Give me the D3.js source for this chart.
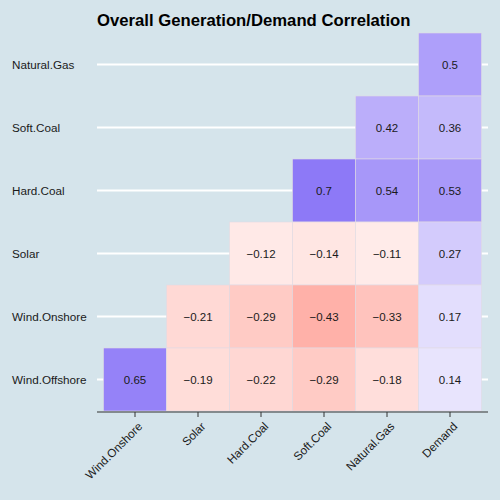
<!DOCTYPE html>
<html><head><meta charset="utf-8">
<script src="https://cdn.jsdelivr.net/npm/d3@7"></script>
<style>body{margin:0;background:#d5e4eb;} svg{display:block;}</style>
</head><body>
<svg id="c" width="500" height="500"></svg>
<script>
const title = "Overall Generation/Demand Correlation";
const xLabels = ["Wind.Onshore","Solar","Hard.Coal","Soft.Coal","Natural.Gas","Demand"];
const yLabels = ["Natural.Gas","Soft.Coal","Hard.Coal","Solar","Wind.Onshore","Wind.Offshore"];
const cellX = ["Demand",
  "Natural.Gas","Demand",
  "Soft.Coal","Natural.Gas","Demand",
  "Hard.Coal","Soft.Coal","Natural.Gas","Demand",
  "Solar","Hard.Coal","Soft.Coal","Natural.Gas","Demand",
  "Wind.Onshore","Solar","Hard.Coal","Soft.Coal","Natural.Gas","Demand"];
const cellY = ["Natural.Gas",
  "Soft.Coal","Soft.Coal",
  "Hard.Coal","Hard.Coal","Hard.Coal",
  "Solar","Solar","Solar","Solar",
  "Wind.Onshore","Wind.Onshore","Wind.Onshore","Wind.Onshore","Wind.Onshore",
  "Wind.Offshore","Wind.Offshore","Wind.Offshore","Wind.Offshore","Wind.Offshore","Wind.Offshore"];
const cellValues = [0.5,
  0.42,0.36,
  0.7,0.54,0.53,
  -0.12,-0.14,-0.11,0.27,
  -0.21,-0.29,-0.43,-0.33,0.17,
  0.65,-0.19,-0.22,-0.29,-0.18,0.14];

const svg = d3.select("#c");
const panel = {left:97, right:488};
const x = d3.scaleBand().domain(xLabels).range([103.5,481.5]).padding(0);
const y = d3.scaleBand().domain(yLabels).range([33,411]).padding(0);
const color = d3.scaleLinear().domain([-1,0,1]).range(["#ff4a38","#ffffff","#5c3ff4"]).interpolate(d3.interpolateRgb);

svg.append("rect").attr("width",500).attr("height",500).attr("fill","#d5e4eb");

// grid lines
svg.append("g").selectAll("line").data(yLabels).join("line")
  .attr("x1",panel.left).attr("x2",panel.right)
  .attr("y1",d=>y(d)+y.bandwidth()/2).attr("y2",d=>y(d)+y.bandwidth()/2)
  .attr("stroke","#ffffff").attr("stroke-width",2);

const cells = cellValues.map((v,i)=>({x:cellX[i], y:cellY[i], v}));
svg.append("g").selectAll("rect").data(cells).join("rect")
  .attr("x",d=>x(d.x)).attr("y",d=>y(d.y))
  .attr("width",x.bandwidth()).attr("height",y.bandwidth())
  .attr("fill",d=>color(d.v)).attr("stroke","#e0dbe3").attr("stroke-width",0.6);

const fmt = v => (v<0?"\u2212":"") + String(Math.abs(v));
svg.append("g").selectAll("text").data(cells).join("text")
  .attr("x",d=>x(d.x)+x.bandwidth()/2).attr("y",d=>y(d.y)+y.bandwidth()/2)
  .attr("text-anchor","middle").attr("dominant-baseline","central")
  .attr("font-family","Liberation Sans, Arial, sans-serif").attr("font-size",11.5)
  .attr("fill","#1a1a1a").text(d=>fmt(d.v));

// x axis
const xAxisG = svg.append("g").attr("transform","translate(0,412)");
xAxisG.append("line").attr("x1",panel.left).attr("x2",panel.right).attr("y1",0).attr("y2",0)
  .attr("stroke","#333").attr("stroke-width",1.2);
xAxisG.selectAll("line.tick").data(xLabels).join("line").attr("class","tick")
  .attr("x1",d=>x(d)+x.bandwidth()/2).attr("x2",d=>x(d)+x.bandwidth()/2)
  .attr("y1",0).attr("y2",5).attr("stroke","#333").attr("stroke-width",1);
xAxisG.selectAll("text").data(xLabels).join("text")
  .attr("transform",d=>`translate(${x(d)+x.bandwidth()/2+5},${12}) rotate(-45)`)
  .attr("text-anchor","end").attr("dominant-baseline","central")
  .attr("font-family","Liberation Sans, Arial, sans-serif").attr("font-size",11.7)
  .attr("fill","#1a1a1a").text(d=>d);

// y labels
svg.append("g").selectAll("text").data(yLabels).join("text")
  .attr("x",12).attr("y",d=>y(d)+y.bandwidth()/2)
  .attr("dominant-baseline","central")
  .attr("font-family","Liberation Sans, Arial, sans-serif").attr("font-size",11.7)
  .attr("fill","#1a1a1a").text(d=>d);

svg.append("text").attr("x",97).attr("y",26)
  .attr("font-family","Liberation Sans, Arial, sans-serif").attr("font-size",16.7).attr("font-weight","bold")
  .attr("fill","#000").text(title);
</script>
</body></html>
